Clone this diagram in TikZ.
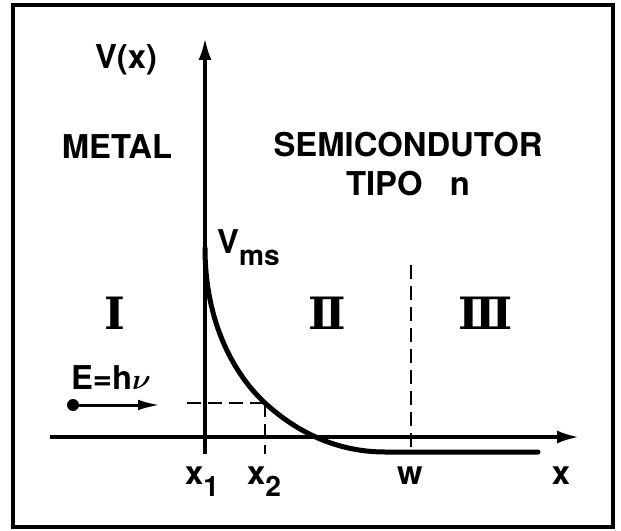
\documentclass[tikz,border=0pt]{standalone}
\usepackage{fontspec}
\setmainfont{TeX Gyre Heros}
\newfontfamily\romfont{DejaVu Serif}
\usepackage{amsmath}
\usetikzlibrary{arrows.meta, positioning}

\newcommand{\idx}[1]{\raisebox{-11pt}{\fontsize{24}{24}\selectfont #1}}

\tikzset{
  lbl/.style={font=\bfseries\fontsize{28}{34}\selectfont, inner sep=0pt},
  region/.style={font=\romfont\bfseries\fontsize{38}{38}\selectfont, inner sep=0pt},
  axis/.style={line width=1mm, -{Latex[length=6.6mm, width=3.9mm]}},
  guide/.style={line width=0.75mm, dash pattern=on 4.2mm off 2.1mm},
}

\begin{document}
\begin{tikzpicture}[x=0.3mm, y=0.3mm]
\useasboundingbox (0,0) rectangle (621,530);

% Frame
\draw[line width=1mm] (13,3) rectangle (613,525);

% Axes
\coordinate (ybot) at (205,76);
\coordinate (ytop) at (205,492);
\coordinate (xleft) at (50,93);
\coordinate (xright) at (579,93);
\draw[axis] (ybot) -- (ytop);
\draw[axis] (xleft) -- (xright);

% Potential curve
\coordinate (vtop) at (205,282);
\coordinate (cross) at (265,127);
\coordinate (flat) at (385,78);
\coordinate (vend) at (538,78);
\draw[line width=1.5mm, line cap=round] (vtop) .. controls (205,200) and (240,150) .. (cross)
  .. controls (290,104) and (330,78) .. (flat) -- (vend);

% Guides
\coordinate (x2low) at (265,76);
\coordinate (hleft) at (187,127);
\coordinate (wtop) at (411,265);
\coordinate (wbot) at (411,78);
\draw[guide] (hleft) -- (cross);
\draw[guide] (cross) -- (x2low);
\draw[guide] (wtop) -- (wbot);

% Photon
\node[circle, fill, minimum size=3.6mm, inner sep=0pt] (dot) at (73,125) {};
\coordinate (dtip) at (160,125);
\draw[line width=0.9mm, -{Latex[length=6.6mm, width=3.2mm]}] (dot.center) -- (dtip);
\node[lbl] (energy) at (111,152) {E=h$\boldsymbol{\nu}$};

% Labels
\node[lbl] (vx) at (126,470) {V(x)};
\node[lbl] (metal) at (117,383) {METAL};
\node[lbl, align=center] (semi) at (408,366) {SEMICONDUTOR\\TIPO\ \ \ n};
\node[lbl, anchor=base west] (vms) at (217,277) {V\idx{ms}};

\node[region] (r1) at (115,217) {Ⅰ};
\node[region] (r2) at (327,217) {Ⅱ};
\node[region] (r3) at (486,217) {Ⅲ};

\node[lbl, anchor=base west] (x1) at (185,46) {x\idx{1}};
\node[lbl, anchor=base west] (x2) at (247,46) {x\idx{2}};
\node[lbl, anchor=base] (w) at (410,46) {w};
\node[lbl, anchor=base] (xlab) at (561,46) {x};

\end{tikzpicture}
\end{document}
